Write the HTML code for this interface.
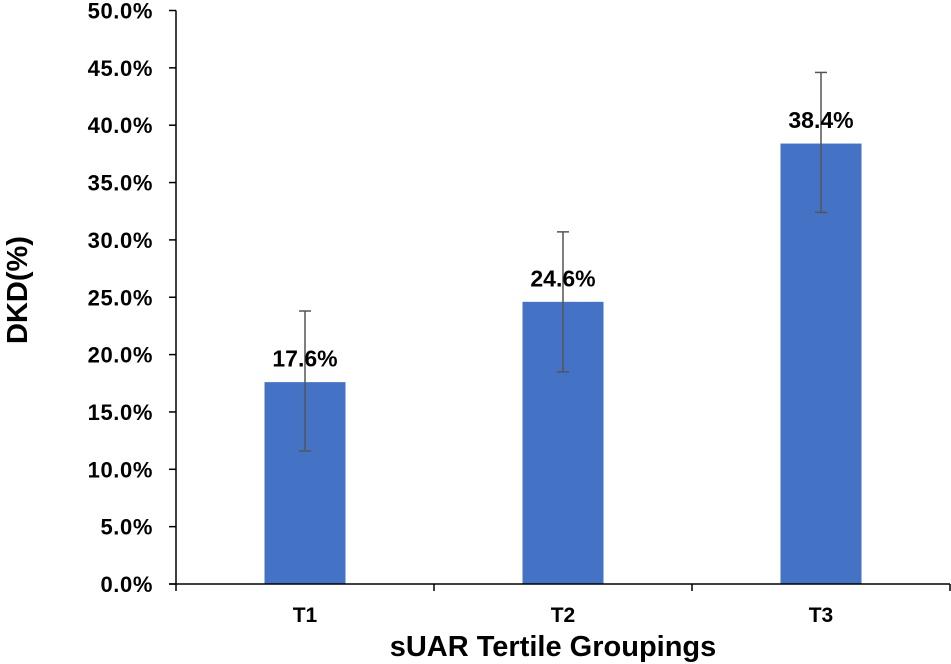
<!DOCTYPE html>
<html><head><meta charset="utf-8"><style>
html,body{margin:0;padding:0;background:#fff;}
svg{display:block;font-family:"Liberation Sans",Arial,sans-serif;}
</style></head><body>
<svg id="chart" width="951" height="664" viewBox="0 0 951 664" xmlns="http://www.w3.org/2000/svg"></svg>
<script>
const categories = ["T1","T2","T3"];
const values = [17.6, 24.6, 38.4];
const errLow = [11.6, 18.5, 32.4];
const errHigh = [23.8, 30.7, 44.6];
const yTicks = [0,5,10,15,20,25,30,35,40,45,50];

const NS="http://www.w3.org/2000/svg";
const svg=document.getElementById('chart');
const x0=176, x1=950, yBase=584, yTop=10.5, yMax=50;
const band=(x1-x0)/categories.length, barW=81;
const y=v=>yBase-(v/yMax)*(yBase-yTop);
const xc=i=>x0+band*(i+0.5);
function mk(tag,attrs,parent){const e=document.createElementNS(NS,tag);for(const k in attrs)e.setAttribute(k,attrs[k]);(parent||svg).appendChild(e);return e;}

yTicks.forEach(t=>{
  const ln=mk('line',{x1:x0-7,x2:x0,y1:y(t),y2:y(t),stroke:'#000','stroke-width':1.5});
  
  
  const tx=mk('text',{x:153,y:y(t)+8,'text-anchor':'end','font-size':22,'font-weight':'bold',fill:'#000','letter-spacing':0.6});
  tx.textContent=t.toFixed(1)+'%';
  
  
});

categories.forEach((c,i)=>{
  const r=mk('rect',{x:xc(i)-barW/2,y:y(values[i]),width:barW,height:yBase-y(values[i]),fill:'#4472C4'});
  
  
});

const ya=mk('line',{x1:x0,x2:x0,y1:yTop,y2:yBase,stroke:'#000','stroke-width':1.5});


const xa=mk('line',{x1:x0-7,x2:x1,y1:yBase,y2:yBase,stroke:'#000','stroke-width':1.5});


for(let i=0;i<=categories.length;i++){
  const t=mk('line',{x1:x0+band*i,x2:x0+band*i,y1:yBase,y2:yBase+7,stroke:'#000','stroke-width':1.5});
  
  
}

categories.forEach((c,i)=>{
  const g=mk('g',{stroke:'#555','stroke-width':1.5});
  
  
  mk('line',{x1:xc(i),x2:xc(i),y1:y(errLow[i]),y2:y(errHigh[i])},g);
  mk('line',{x1:xc(i)-6,x2:xc(i)+6,y1:y(errLow[i]),y2:y(errLow[i])},g);
  mk('line',{x1:xc(i)-6,x2:xc(i)+6,y1:y(errHigh[i]),y2:y(errHigh[i])},g);
  const dl=mk('text',{x:xc(i),y:y(values[i])-15.5,'text-anchor':'middle','font-size':23,'font-weight':'bold',fill:'#000'});
  dl.textContent=values[i].toFixed(1)+'%';
  
  
  const cl=mk('text',{x:xc(i),y:622,'text-anchor':'middle','font-size':21,'font-weight':'bold',fill:'#000'});
  cl.textContent=c;
  
  
});

const xt=mk('text',{x:553,y:656,'text-anchor':'middle','font-size':29,'font-weight':'bold',fill:'#000'});
xt.textContent='sUAR Tertile Groupings';


const yt=mk('text',{x:0,y:0,'text-anchor':'middle','font-size':29,'font-weight':'bold',fill:'#000',transform:'translate(27,290) rotate(-90)'});
yt.textContent='DKD(%)';


</script>
</body></html>
